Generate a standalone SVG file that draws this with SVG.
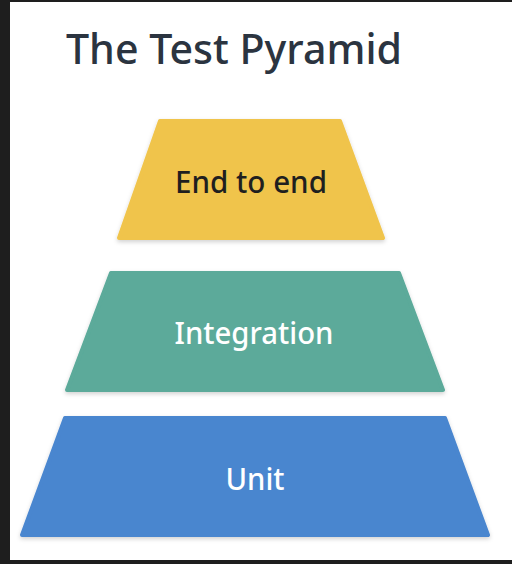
<svg xmlns="http://www.w3.org/2000/svg" width="512" height="564" viewBox="0 0 512 564">
  <defs>
    <filter id="sh" x="-10%" y="-10%" width="120%" height="130%">
      <feDropShadow dx="0" dy="2" stdDeviation="2" flood-color="#000" flood-opacity="0.18"/>
    </filter>
    <style>
      .layer { stroke-linejoin: round; stroke-width: 4; filter: url(#sh); }
      .lbl { font-family: "Noto Sans", "Liberation Sans", sans-serif; font-size: 31px; text-anchor: middle; font-weight: 500; }
    </style>
  </defs>
  <rect x="0" y="0" width="512" height="564" fill="#1e1e1e"/>
  <rect x="10" y="2" width="502" height="558" fill="#ffffff"/>
  <text x="66" y="64" font-family="Noto Sans, Liberation Sans, sans-serif" font-size="42" font-weight="500" fill="#2b3440" textLength="336" lengthAdjust="spacingAndGlyphs">The Test Pyramid</text>
  <g id="end-to-end">
    <polygon class="layer" points="160,121 340,121 383,238 119,238" fill="#f0c44c" stroke="#f0c44c"/>
    <text class="lbl" x="251" y="193" fill="#1f1f1f" textLength="152" lengthAdjust="spacingAndGlyphs">End to end</text>
  </g>
  <g id="integration">
    <polygon class="layer" points="111,273 399,273 443,390 67,390" fill="#5baa9a" stroke="#5baa9a"/>
    <text class="lbl" x="254" y="344" fill="#ffffff" textLength="159" lengthAdjust="spacingAndGlyphs">Integration</text>
  </g>
  <g id="unit">
    <polygon class="layer" points="65,418 445,418 488,535 22,535" fill="#4a86cf" stroke="#4a86cf"/>
    <text class="lbl" x="255" y="490" fill="#ffffff" textLength="59" lengthAdjust="spacingAndGlyphs">Unit</text>
  </g>
  <g id="connectors"/>
</svg>
